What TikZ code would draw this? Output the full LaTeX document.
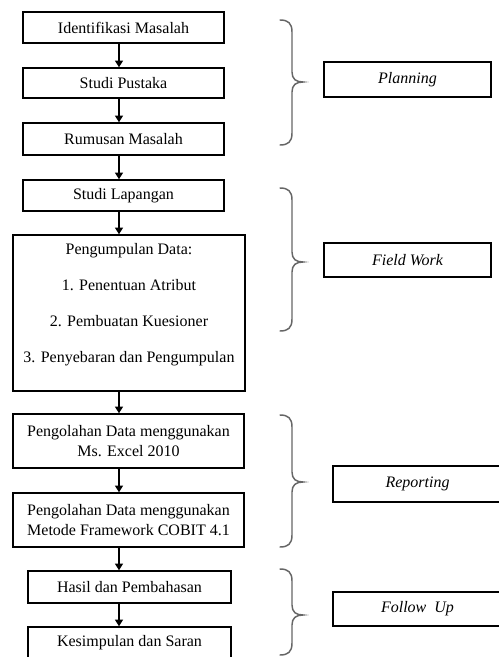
\documentclass[tikz,border=0pt]{standalone}
\usepackage{fontspec}
\setmainfont{Liberation Serif}
\usetikzlibrary{arrows.meta}
\newcommand{\gbrace}[3]{% top, mid, bottom (px)
  \draw[brc] (280,#1) .. controls (288,#1) and (292,#1+3) .. (292,#1+12)
    -- (292,#2-10) .. controls (292,#2-3) and (296,#2) .. (303,#2)
    .. controls (296,#2) and (292,#2+3) .. (292,#2+10)
    -- (292,#3-12) .. controls (292,#3-3) and (288,#3) .. (280,#3);}
\begin{document}
\begin{tikzpicture}[x=0.75pt,y=-0.75pt,
  bsz/.style 2 args={minimum width=#1*0.75pt, minimum height=#2*0.75pt},
  box/.style={draw, line width=1.1pt, inner sep=0pt, align=center,
    font=\fontsize{12}{15}\selectfont},
  lbl/.style={draw, line width=1.1pt, inner sep=0pt,
    font=\fontsize{12}{15}\selectfont\itshape},
  txt/.style={inner sep=0pt, align=center, font=\fontsize{12}{27}\selectfont},
  arr/.style={line width=1pt, -{Triangle[length=5pt,width=6pt]}},
  brc/.style={draw=black!60, line width=1.1pt, line cap=round}]
\useasboundingbox (0,0) rectangle (499,657);
\clip (0,0) rectangle (499,657);
\fill[white] (0,0) rectangle (499,657);

% left flow boxes
\node[box, bsz={201}{31}] (b1) at (123.5,27.5) {Identifikasi Masalah};
\node[box, bsz={201}{30}] (b2) at (123.5,83) {Studi Pustaka};
\node[box, bsz={201}{32}] (b3) at (123.5,139) {Rumusan Masalah};
\node[box, bsz={201}{31}] (b4) at (123.5,195.5) {Studi Lapangan};
\node[box, bsz={232}{156}] (b5) at (129,313) {};
\node[txt] (b5t) at (129,304.5) {Pengumpulan Data:\\1. Penentuan Atribut\\2. Pembuatan Kuesioner\\3. Penyebaran dan Pengumpulan};
\node[box, bsz={231}{54}] (b6) at (128.5,441) {Pengolahan Data menggunakan\\Ms. Excel 2010};
\node[box, bsz={231}{54}] (b7) at (128.5,520) {Pengolahan Data menggunakan\\Metode Framework COBIT 4.1};
\node[box, bsz={203}{32}] (b8) at (129.5,587) {Hasil dan Pembahasan};
\node[box, bsz={203}{32}] (b9) at (129.5,643) {Kesimpulan dan Saran};

% arrows
\coordinate (ax) at (119,0);
\draw[arr] (b1.south -| ax) -- (b2.north -| ax);
\draw[arr] (b2.south -| ax) -- (b3.north -| ax);
\draw[arr] (b3.south -| ax) -- (b4.north -| ax);
\draw[arr] (b4.south -| ax) -- (b5.north -| ax);
\draw[arr] (b5.south -| ax) -- (b6.north -| ax);
\draw[arr] (b6.south -| ax) -- (b7.north -| ax);
\draw[arr] (b7.south -| ax) -- (b8.north -| ax);
\draw[arr] (b8.south -| ax) -- (b9.north -| ax);

% braces
\gbrace{20}{82}{145}
\gbrace{188}{262}{331}
\gbrace{415}{482}{547}
\gbrace{569}{615}{655}

% phase labels
\node[lbl, bsz={167}{35}] (p1) at (407.5,79.5) {Planning};
\node[lbl, bsz={167}{34}] (p2) at (407.5,260) {Field Work};
\node[lbl, bsz={169}{36}] (p3) at (417.5,484) {Reporting};
\node[lbl, bsz={169}{34}] (p4) at (417.5,609) {Follow~~Up};
\end{tikzpicture}
\end{document}
